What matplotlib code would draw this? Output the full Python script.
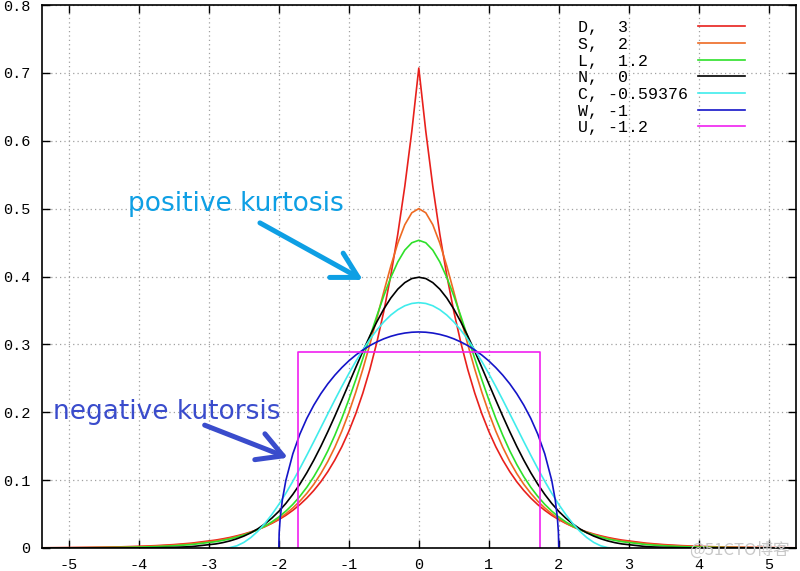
import matplotlib
matplotlib.use("Agg")
import matplotlib.pyplot as plt
from matplotlib.lines import Line2D

plt.rcParams['axes.unicode_minus'] = False

# =========================
# Dados
# =========================

x_wide = [-5.39, -5.0, -4.75, -4.5, -4.25, -4.0, -3.75, -3.5, -3.25,
          -2.9, -2.8, -2.7, -2.6, -2.5, -2.4, -2.3, -2.2, -2.1, -2.0,
          -1.9, -1.8, -1.7, -1.6, -1.5, -1.4, -1.3, -1.2, -1.1, -1.0,
          -0.9, -0.8, -0.7, -0.6, -0.5, -0.4, -0.3, -0.2, -0.1, 0.0,
          0.1, 0.2, 0.3, 0.4, 0.5, 0.6, 0.7, 0.8, 0.9, 1.0,
          1.1, 1.2, 1.3, 1.4, 1.5, 1.6, 1.7, 1.8, 1.9, 2.0,
          2.1, 2.2, 2.3, 2.4, 2.5, 2.6, 2.7, 2.8, 2.9,
          3.25, 3.5, 3.75, 4.0, 4.25, 4.5, 4.75, 5.0, 5.39]

y_laplace = [0.0003, 0.0006, 0.0009, 0.0012, 0.0017, 0.0025, 0.0035, 0.0050, 0.0071,
             0.0117, 0.0135, 0.0155, 0.0179, 0.0206, 0.0237, 0.0273, 0.0315, 0.0363, 0.0418,
             0.0481, 0.0555, 0.0639, 0.0736, 0.0848, 0.0976, 0.1125, 0.1296, 0.1492, 0.1719,
             0.1980, 0.2281, 0.2628, 0.3027, 0.3487, 0.4016, 0.4626, 0.5329, 0.6139, 0.7071,
             0.6139, 0.5329, 0.4626, 0.4016, 0.3487, 0.3027, 0.2628, 0.2281, 0.1980, 0.1719,
             0.1492, 0.1296, 0.1125, 0.0976, 0.0848, 0.0736, 0.0639, 0.0555, 0.0481, 0.0418,
             0.0363, 0.0315, 0.0273, 0.0237, 0.0206, 0.0179, 0.0155, 0.0135, 0.0117,
             0.0071, 0.0050, 0.0035, 0.0025, 0.0017, 0.0012, 0.0009, 0.0006, 0.0003]

y_sech = [0.0002, 0.0004, 0.0006, 0.0009, 0.0013, 0.0019, 0.0028, 0.0041, 0.0061,
          0.0105, 0.0123, 0.0144, 0.0168, 0.0197, 0.0230, 0.0270, 0.0315, 0.0369, 0.0431,
          0.0504, 0.0590, 0.0689, 0.0805, 0.0939, 0.1096, 0.1276, 0.1484, 0.1722, 0.1993,
          0.2297, 0.2633, 0.2998, 0.3383, 0.3775, 0.4153, 0.4492, 0.4763, 0.4939, 0.5000,
          0.4939, 0.4763, 0.4492, 0.4153, 0.3775, 0.3383, 0.2998, 0.2633, 0.2297, 0.1993,
          0.1722, 0.1484, 0.1276, 0.1096, 0.0939, 0.0805, 0.0689, 0.0590, 0.0504, 0.0431,
          0.0369, 0.0315, 0.0270, 0.0230, 0.0197, 0.0168, 0.0144, 0.0123, 0.0105,
          0.0061, 0.0041, 0.0028, 0.0019, 0.0013, 0.0009, 0.0006, 0.0004, 0.0002]

y_logistic = [0.0001, 0.0002, 0.0003, 0.0005, 0.0008, 0.0013, 0.0020, 0.0032, 0.0050,
              0.0093, 0.0112, 0.0133, 0.0160, 0.0191, 0.0227, 0.0271, 0.0323, 0.0385, 0.0457,
              0.0543, 0.0643, 0.0760, 0.0895, 0.1051, 0.1230, 0.1432, 0.1660, 0.1911, 0.2186,
              0.2481, 0.2790, 0.3106, 0.3418, 0.3716, 0.3986, 0.4215, 0.4389, 0.4497, 0.4534,
              0.4497, 0.4389, 0.4215, 0.3986, 0.3716, 0.3418, 0.3106, 0.2790, 0.2481, 0.2186,
              0.1911, 0.1660, 0.1432, 0.1230, 0.1051, 0.0895, 0.0760, 0.0643, 0.0543, 0.0457,
              0.0385, 0.0323, 0.0271, 0.0227, 0.0191, 0.0160, 0.0133, 0.0112, 0.0093,
              0.0050, 0.0032, 0.0020, 0.0013, 0.0008, 0.0005, 0.0003, 0.0002, 0.0001]

y_normal = [0.0000, 0.0000, 0.0000, 0.0000, 0.0000, 0.0001, 0.0004, 0.0009, 0.0020,
            0.0060, 0.0079, 0.0104, 0.0136, 0.0175, 0.0224, 0.0283, 0.0355, 0.0440, 0.0540,
            0.0656, 0.0790, 0.0940, 0.1109, 0.1295, 0.1497, 0.1714, 0.1942, 0.2179, 0.2420,
            0.2661, 0.2897, 0.3123, 0.3332, 0.3521, 0.3683, 0.3814, 0.3910, 0.3970, 0.3989,
            0.3970, 0.3910, 0.3814, 0.3683, 0.3521, 0.3332, 0.3123, 0.2897, 0.2661, 0.2420,
            0.2179, 0.1942, 0.1714, 0.1497, 0.1295, 0.1109, 0.0940, 0.0790, 0.0656, 0.0540,
            0.0440, 0.0355, 0.0283, 0.0224, 0.0175, 0.0136, 0.0104, 0.0079, 0.0060,
            0.0020, 0.0009, 0.0004, 0.0001, 0.0000, 0.0000, 0.0000, 0.0000, 0.0000]

x_cosine = [-2.766, -2.7, -2.6, -2.5, -2.4, -2.3, -2.2, -2.1, -2.0,
            -1.9, -1.8, -1.7, -1.6, -1.5, -1.4, -1.3, -1.2, -1.1, -1.0,
            -0.9, -0.8, -0.7, -0.6, -0.5, -0.4, -0.3, -0.2, -0.1, 0.0,
            0.1, 0.2, 0.3, 0.4, 0.5, 0.6, 0.7, 0.8, 0.9, 1.0,
            1.1, 1.2, 1.3, 1.4, 1.5, 1.6, 1.7, 1.8, 1.9,
            2.0, 2.1, 2.2, 2.3, 2.4, 2.5, 2.6, 2.7, 2.766]
y_cosine = [0.0000, 0.0005, 0.0032, 0.0082, 0.0154, 0.0247, 0.0361, 0.0493, 0.0642,
            0.0806, 0.0983, 0.1171, 0.1367, 0.1568, 0.1773, 0.1978, 0.2181, 0.2379, 0.2569,
            0.2750, 0.2919, 0.3073, 0.3211, 0.3331, 0.3432, 0.3511, 0.3569, 0.3603, 0.3615,
            0.3603, 0.3569, 0.3511, 0.3432, 0.3331, 0.3211, 0.3073, 0.2919, 0.2750, 0.2569,
            0.2379, 0.2181, 0.1978, 0.1773, 0.1568, 0.1367, 0.1171, 0.0983, 0.0806,
            0.0642, 0.0493, 0.0361, 0.0247, 0.0154, 0.0082, 0.0032, 0.0005, 0.0000]

x_wigner = [-2.0, -1.995, -1.98, -1.95, -1.9, -1.8, -1.7, -1.6, -1.5, -1.4, -1.3, -1.2,
            -1.1, -1.0, -0.9, -0.8, -0.7, -0.6, -0.5, -0.4, -0.3, -0.2, -0.1, 0.0,
            0.1, 0.2, 0.3, 0.4, 0.5, 0.6, 0.7, 0.8, 0.9, 1.0, 1.1,
            1.2, 1.3, 1.4, 1.5, 1.6, 1.7, 1.8, 1.9, 1.95, 1.98, 1.995, 2.0]
y_wigner = [0.0000, 0.0225, 0.0449, 0.0707, 0.0994, 0.1387, 0.1677, 0.1910, 0.2105, 0.2273, 0.2419, 0.2546,
            0.2658, 0.2757, 0.2843, 0.2917, 0.2982, 0.3036, 0.3082, 0.3119, 0.3147, 0.3167, 0.3179, 0.3183,
            0.3179, 0.3167, 0.3147, 0.3119, 0.3082, 0.3036, 0.2982, 0.2917, 0.2843, 0.2757, 0.2658,
            0.2546, 0.2419, 0.2273, 0.2105, 0.1910, 0.1677, 0.1387, 0.0994, 0.0707, 0.0449, 0.0225, 0.0000]

x_uniform = [-1.7321, -1.7321, 1.7321, 1.7321]
y_uniform = [0.0, 0.2887, 0.2887, 0.0]

labels = ["D,  3", "S,  2", "L,  1.2", "N,  0", "C, -0.59376", "W, -1", "U, -1.2"]
cores = ["#e8201c", "#ee6a22", "#2ee02a", "#000000", "#40ecec", "#1414c8", "#f020f0"]

series = [
    (x_wide, y_laplace),
    (x_wide, y_sech),
    (x_wide, y_logistic),
    (x_wide, y_normal),
    (x_cosine, y_cosine),
    (x_wigner, y_wigner),
    (x_uniform, y_uniform),
]

x_ticks = [-5, -4, -3, -2, -1, 0, 1, 2, 3, 4, 5]
y_ticks = [0, 0.1, 0.2, 0.3, 0.4, 0.5, 0.6, 0.7, 0.8]

# =========================
# Figura
# =========================

mono = "Liberation Mono"

fig = plt.figure(figsize=(8, 5.71), dpi=100)
ax = fig.add_axes([0.052, 0.0403, 0.943, 0.9509])

for (xs, ys), cor, lab in zip(series, cores, labels):
    ax.plot(xs, ys, color=cor, lw=1.2, label=lab)

ax.set_xlim(-5.39, 5.39)
ax.set_ylim(0, 0.8)
ax.set_xticks(x_ticks)
ax.set_yticks(y_ticks)
ax.set_xticklabels([str(t) for t in x_ticks], fontfamily=mono, fontsize=11)
ax.set_yticklabels(["0"] + [f"{t:.1f}" for t in y_ticks[1:]], fontfamily=mono, fontsize=11)

ax.tick_params(direction="in", length=6, width=1, top=True, right=True)
ax.tick_params(axis="y", pad=8)
ax.tick_params(axis="x", pad=7)

ax.grid(True, color="#a0a0a0", lw=0.9, linestyle=(0, (1, 2.5)))
for sp in ax.spines.values():
    sp.set_linewidth(1.2)

# legenda estilo gnuplot: texto à esquerda, linha à direita
largura = max(len(l) for l in labels)
handles = [Line2D([0], [0], color=c, lw=1.2) for c in cores]
ax.legend(handles, [l.ljust(largura) for l in labels], loc="upper right",
          bbox_to_anchor=(0.932, 0.972), frameon=False, markerfirst=False,
          prop={"family": mono, "size": 12}, handlelength=2.8, handletextpad=0.6,
          labelspacing=0.1, borderpad=0, borderaxespad=0)

# anotações
seta = "->,head_length=0.9,head_width=0.5"

ax.text(-4.16, 0.5075, "positive kurtosis", color="#0e9fe4", fontsize=19,
        family="DejaVu Sans", ha="left", va="center")
ax.annotate("", xy=(-0.8, 0.395), xytext=(-2.27, 0.479),
            arrowprops=dict(arrowstyle=seta, color="#0e9fe4", lw=3.6,
                            mutation_scale=20, shrinkA=0, shrinkB=0))

ax.text(-5.23, 0.2006, "negative kutorsis", color="#3a4ccc", fontsize=19,
        family="DejaVu Sans", ha="left", va="center")
ax.annotate("", xy=(-1.87, 0.133), xytext=(-3.06, 0.181),
            arrowprops=dict(arrowstyle=seta, color="#3a4ccc", lw=3.6,
                            mutation_scale=20, shrinkA=0, shrinkB=0))

fig.text(0.9875, 0.036, "@51CTO博客", color="#c8c8c8", fontsize=12,
         family=["Noto Sans CJK SC", "DejaVu Sans"], ha="right", va="center")

fig.savefig("out.png", dpi=100)
